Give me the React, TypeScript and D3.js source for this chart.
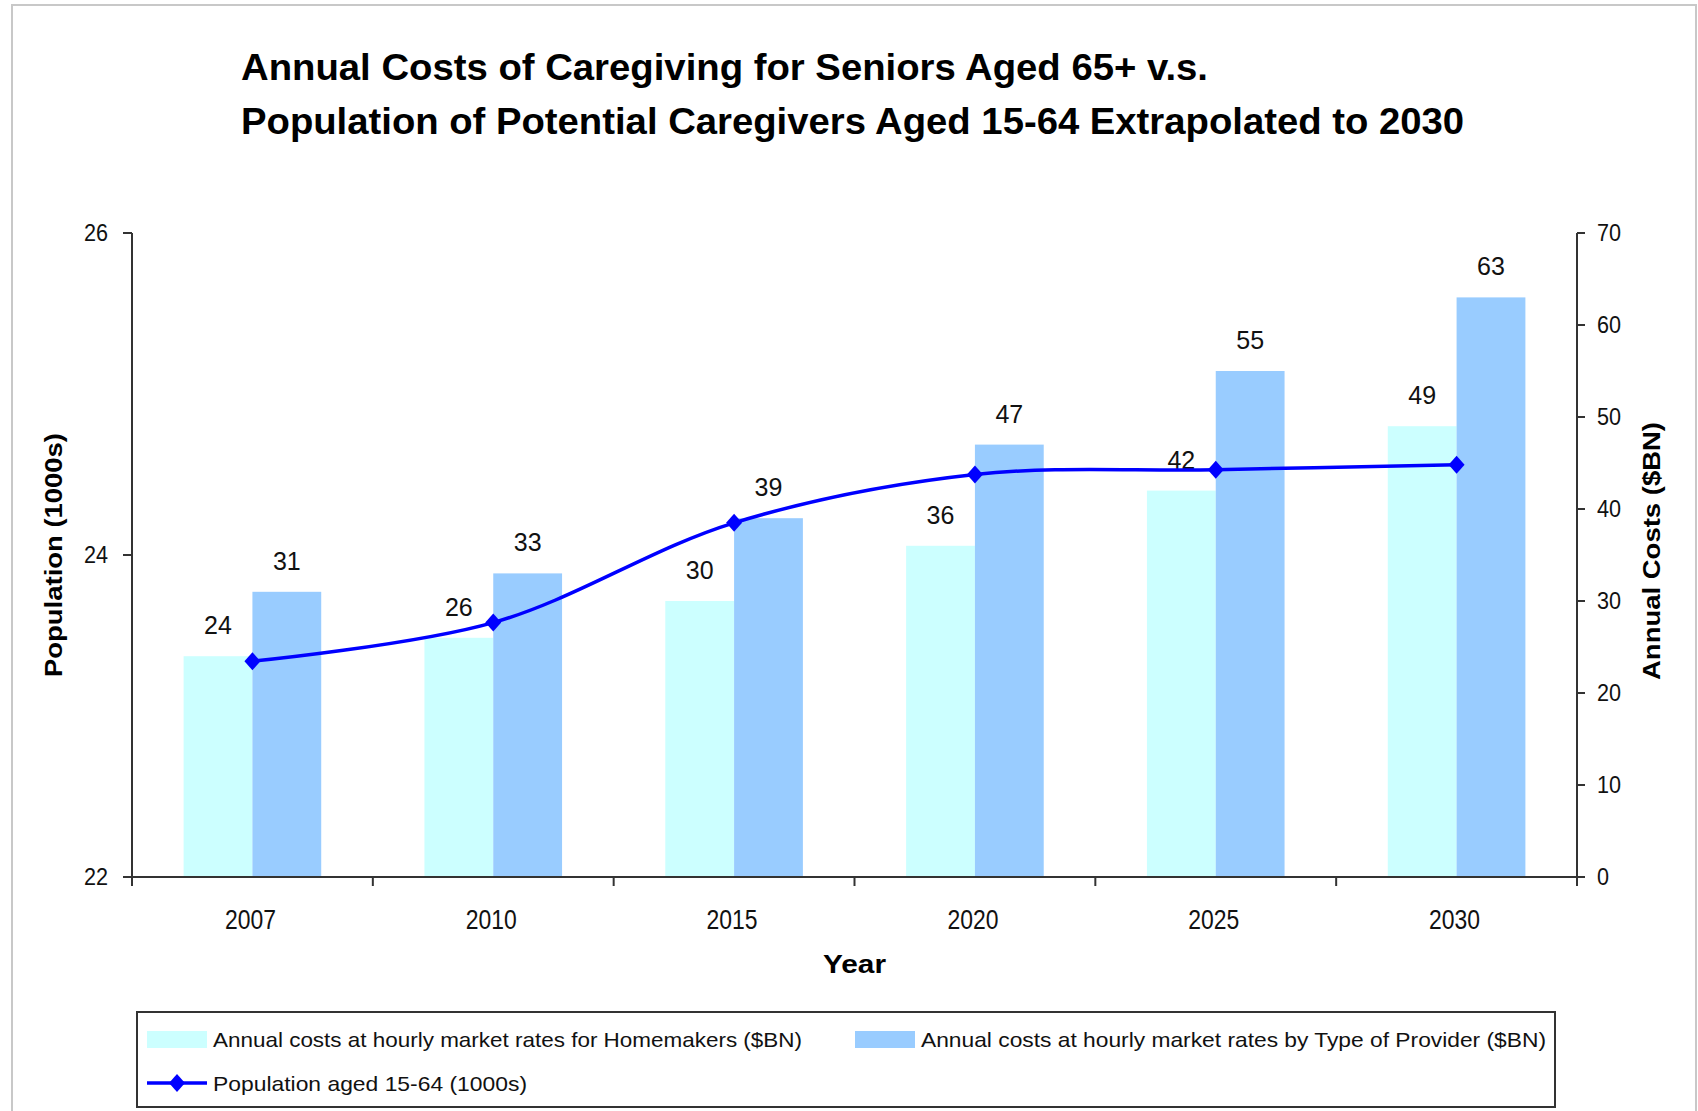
import * as d3 from 'd3';

const years = ['2007', '2010', '2015', '2020', '2025', '2030'];
const homemakerCosts = [24, 26, 30, 36, 42, 49];
const providerCosts = [31, 33, 39, 47, 55, 63];
const population = [23.34, 23.58, 24.2, 24.5, 24.53, 24.56];
const popTicks = [22, 24, 26];
const costTicks = [0, 10, 20, 30, 40, 50, 60, 70];

const titleLines = [
  'Annual Costs of Caregiving for Seniors Aged 65+ v.s.',
  'Population of Potential Caregivers Aged 15-64 Extrapolated to 2030',
];
const seriesNames = [
  'Annual costs at hourly market rates for Homemakers ($BN)',
  'Annual costs at hourly market rates by Type of Provider ($BN)',
  'Population aged 15-64 (1000s)',
];

const W = 1698;
const H = 1111;
const left = 132;
const right = 1577;
const top = 233;
const bottom = 877;

const LIGHT = '#ccffff';
const DARK = '#99ccff';
const LINE = '#0000ff';
const AXIS = '#333';
const FONT = '"Liberation Sans", Arial, sans-serif';

// narrow text helper: Excel rendering is squeezed horizontally
function NText({ x, y, size, sx = 1, anchor = 'middle', weight = 'normal', children }: any) {
  return (
    <text
      transform={`translate(${x},${y}) scale(${sx},1)`}
      fontSize={size}
      fontWeight={weight}
      textAnchor={anchor}
      fill="#111"
    >
      {children}
    </text>
  );
}

export default function App() {
  const x = d3.scaleBand().domain(years).range([left, right]);
  const xInner = d3
    .scaleBand()
    .domain(['home', 'prov'])
    .range([0, x.bandwidth()])
    .paddingOuter(0.75);
  const yCost = d3.scaleLinear().domain([0, 70]).range([bottom, top]);
  const yPop = d3.scaleLinear().domain([22, 26]).range([bottom, top]);

  const linePath = d3
    .line<number>()
    .x((_, i) => x(years[i])! + x.bandwidth() / 2)
    .y((d) => yPop(d))
    .curve(d3.curveCatmullRom.alpha(0.5))(population);

  const diamond = (cx: number, cy: number, rx = 8, ry = 9) =>
    `M${cx},${cy - ry}L${cx + rx},${cy}L${cx},${cy + ry}L${cx - rx},${cy}Z`;

  const boundaries = [...years.map((y) => x(y)!), right];

  return (
    <svg
      width={W}
      height={H}
      style={{ position: 'absolute', left: 0, top: 0, background: '#fff' }}
      fontFamily={FONT}
    >
      <rect x={12} y={5} width={1684} height={1130} fill="#fff" stroke="#c8c8c8" strokeWidth={2} />

      {/* title */}
      <g fontWeight="bold" fontSize={37} fill="#000">
        <text x={241} y={80} textLength={967} lengthAdjust="spacingAndGlyphs">{titleLines[0]}</text>
        <text x={241} y={134} textLength={1223} lengthAdjust="spacingAndGlyphs">{titleLines[1]}</text>
      </g>

      {/* bars */}
      {years.map((yr, i) => (
        <g key={yr}>
          <rect
            x={x(yr)! + xInner('home')!}
            y={yCost(homemakerCosts[i])}
            width={xInner.bandwidth()}
            height={bottom - yCost(homemakerCosts[i])}
            fill={LIGHT}
          />
          <rect
            x={x(yr)! + xInner('prov')!}
            y={yCost(providerCosts[i])}
            width={xInner.bandwidth()}
            height={bottom - yCost(providerCosts[i])}
            fill={DARK}
          />
        </g>
      ))}

      {/* bar labels */}
      {years.map((yr, i) => (
        <g key={'l' + yr}>
          <NText x={x(yr)! + xInner('home')! + xInner.bandwidth() / 2} y={yCost(homemakerCosts[i]) - 22} size={25}>
            {homemakerCosts[i]}
          </NText>
          <NText x={x(yr)! + xInner('prov')! + xInner.bandwidth() / 2} y={yCost(providerCosts[i]) - 22} size={25}>
            {providerCosts[i]}
          </NText>
        </g>
      ))}

      {/* population line */}
      <path d={linePath ?? ''} fill="none" stroke={LINE} strokeWidth={3.5} />
      {population.map((p, i) => (
        <path key={'d' + i} d={diamond(x(years[i])! + x.bandwidth() / 2, yPop(p))} fill={LINE} />
      ))}

      {/* axes */}
      <g stroke={AXIS} strokeWidth={2}>
        <line x1={left} x2={left} y1={top} y2={bottom} />
        <line x1={right} x2={right} y1={top} y2={bottom} />
        <line x1={left} x2={right} y1={bottom} y2={bottom} />
        {popTicks.map((t) => (
          <line key={'pt' + t} x1={left - 9} x2={left} y1={yPop(t)} y2={yPop(t)} />
        ))}
        {costTicks.map((t) => (
          <line key={'ct' + t} x1={right} x2={right + 8} y1={yCost(t)} y2={yCost(t)} />
        ))}
        {boundaries.map((b, i) => (
          <line key={'xt' + i} x1={b} x2={b} y1={bottom} y2={bottom + 9} />
        ))}
      </g>

      {popTicks.map((t) => (
        <NText key={'pl' + t} x={108} y={yPop(t) + 8} size={24} sx={0.9} anchor="end">
          {t}
        </NText>
      ))}
      {costTicks.map((t) => (
        <NText key={'cl' + t} x={1597} y={yCost(t) + 8} size={24} sx={0.9} anchor="start">
          {t}
        </NText>
      ))}
      {years.map((yr) => (
        <NText key={'xl' + yr} x={x(yr)! + x.bandwidth() / 2 - 2} y={929} size={27} sx={0.85}>
          {yr}
        </NText>
      ))}

      {/* axis titles */}
      <text x={823} y={973} fontSize={26} fontWeight="bold" fill="#000" textLength={63} lengthAdjust="spacingAndGlyphs">
        Year
      </text>
      <text
        transform={`translate(62,677) rotate(-90)`}
        fontSize={24}
        fontWeight="bold"
        fill="#000"
        textLength={244}
        lengthAdjust="spacingAndGlyphs"
      >
        Population (1000s)
      </text>
      <text
        transform={`translate(1660,680) rotate(-90)`}
        fontSize={24}
        fontWeight="bold"
        fill="#000"
        textLength={258}
        lengthAdjust="spacingAndGlyphs"
      >
        Annual Costs ($BN)
      </text>

      {/* legend */}
      <rect x={137} y={1012} width={1418} height={95} fill="#fff" stroke={AXIS} strokeWidth={2} />
      <rect x={147} y={1031} width={60} height={17} fill={LIGHT} />
      <text x={213} y={1047} fontSize={21} fill="#111" textLength={589} lengthAdjust="spacingAndGlyphs">
        {seriesNames[0]}
      </text>
      <rect x={855} y={1031} width={60} height={17} fill={DARK} />
      <text x={921} y={1047} fontSize={21} fill="#111" textLength={625} lengthAdjust="spacingAndGlyphs">
        {seriesNames[1]}
      </text>
      <line x1={147} x2={207} y1={1083} y2={1083} stroke={LINE} strokeWidth={3.5} />
      <path d={diamond(177, 1083)} fill={LINE} />
      <text x={213} y={1091} fontSize={21} fill="#111" textLength={314} lengthAdjust="spacingAndGlyphs">
        {seriesNames[2]}
      </text>
    </svg>
  );
}
